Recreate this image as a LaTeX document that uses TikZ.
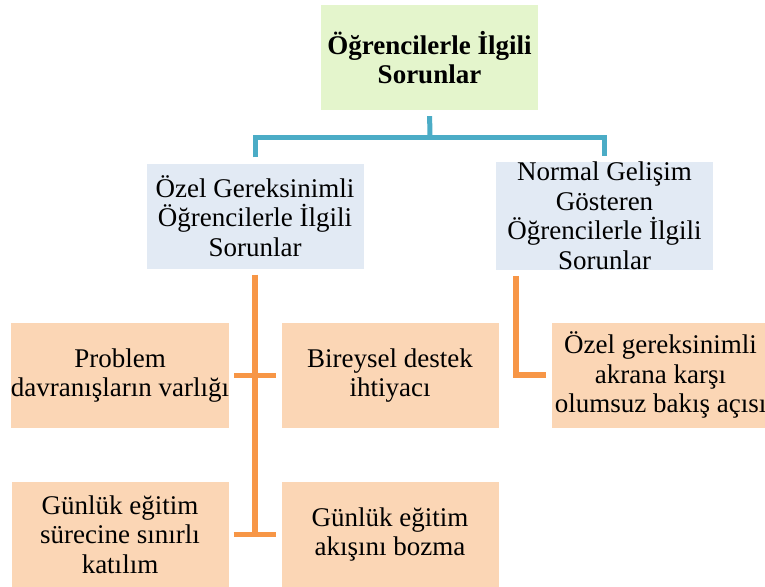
\documentclass[tikz,border=0pt]{standalone}
\usepackage{fontspec}
\setmainfont{Liberation Serif}
\definecolor{yesil}{RGB}{228,245,204}
\definecolor{acikmavi}{RGB}{226,234,244}
\definecolor{seftali}{RGB}{251,214,181}
\definecolor{turuncu}{RGB}{247,150,70}
\definecolor{camgobegi}{RGB}{75,172,198}
\begin{document}
\begin{tikzpicture}[x=1pt,y=-1pt,
  kutu/.style={minimum width=217pt,minimum height=105pt,inner sep=0pt,
    align=center,font=\fontsize{27}{29.5}\selectfont},
  mavicizgi/.style={line width=5pt,draw=camgobegi},
  turuncucizgi/.style={line width=5.5pt,draw=turuncu}]

% Sayfa sınırı
\useasboundingbox (0,0) rectangle (765,586);

% Ana başlık
\node[kutu,fill=yesil,font=\fontsize{27}{29.5}\selectfont\bfseries]
  (ana) at (429.5,57.5) {Öğrencilerle İlgili\\Sorunlar};

% İkinci düzey
\node[kutu,fill=acikmavi] (ozelgr) at (255,216)
  {Özel Gereksinimli\\Öğrencilerle İlgili\\Sorunlar};
\node[kutu,fill=acikmavi] (normal) at (604.5,216)
  {Normal Gelişim\\Gösteren\\Öğrencilerle İlgili\\Sorunlar};

% Alt kutular
\node[kutu,fill=seftali] (problem) at (120,375.5)
  {Problem\\davranışların varlığı};
\node[kutu,fill=seftali] (destek) at (390,375.5)
  {Bireysel destek\\ihtiyacı};
\node[kutu,fill=seftali] (katilim) at (120,534.5)
  {Günlük eğitim\\sürecine sınırlı\\katılım};
\node[kutu,fill=seftali] (akis) at (390,534.5)
  {Günlük eğitim\\akışını bozma};
\node[kutu,fill=seftali] (akran) at (660.5,375)
  {Özel gereksinimli\\akrana karşı\\olumsuz bakış açısı};

% Mavi bağlantılar
\coordinate (bus) at (430,137.5);
\draw[mavicizgi,shorten <=6pt] (ana.south) -- (bus);
\draw[mavicizgi,shorten <=6pt,shorten >=6pt]
  (ozelgr.north) |- (bus) -| (normal.north);

% Turuncu bağlantılar
\draw[turuncucizgi,shorten <=6pt] (ozelgr.south) -- (ozelgr.south |- katilim.east);
\draw[turuncucizgi,shorten <=5pt,shorten >=5pt] (problem.east) -- (destek.west);
\draw[turuncucizgi,shorten <=5pt,shorten >=5pt] (katilim.east) -- (akis.west);
\draw[turuncucizgi,shorten <=6pt,shorten >=6pt]
  ([xshift=20pt]normal.south west) |- (akran.west);

\end{tikzpicture}
\end{document}
